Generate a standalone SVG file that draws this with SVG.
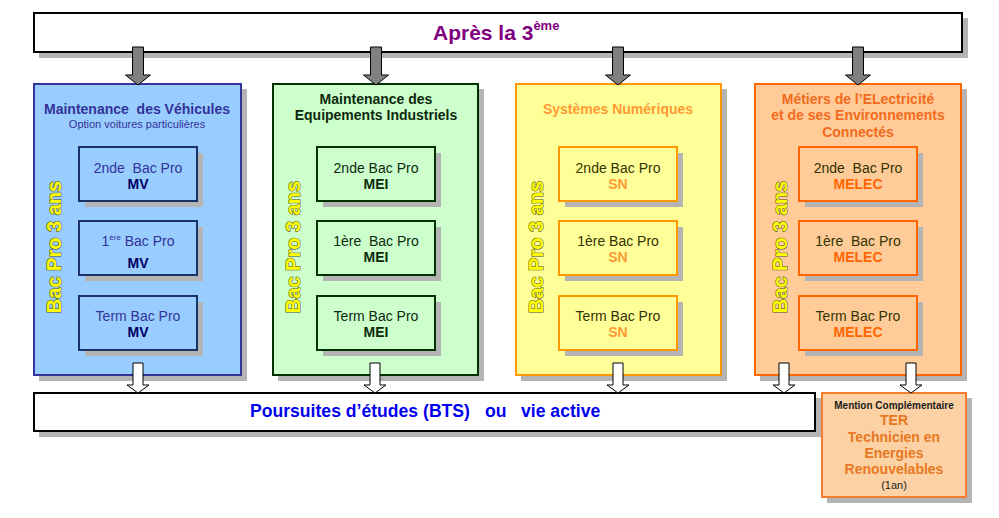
<svg xmlns="http://www.w3.org/2000/svg" width="999" height="518" viewBox="0 0 999 518">
<style>
text{font-family:"Liberation Sans",Arial,sans-serif;text-anchor:middle}
.shadow{fill:#b4b4b4}
.frame{fill:#ffffff;stroke:#000000;stroke-width:2}
.b{font-weight:bold}
.t14{font-size:14px}
.vert{font-size:20px;font-weight:bold;fill:#ffff00;stroke:#4a4a1a;stroke-width:1;paint-order:stroke}
.inbox{stroke-width:2}
.garrow{fill:#808080;stroke:#000000;stroke-width:1}
.warrow{fill:#ffffff;stroke:#000000;stroke-width:1}
.pre{white-space:pre}
</style>

<g id="top">
  <rect class="shadow" x="39" y="18" width="929" height="40"/>
  <rect class="frame" x="34" y="13" width="928" height="39"/>
  <text x="433" y="40" class="b" style="font-size:21px;fill:#800080;text-anchor:start">Après la 3<tspan dy="-10" style="font-size:13px">ème</tspan></text>
</g>

<g id="col-mv">
  <rect class="shadow" x="39" y="89" width="208" height="292"/>
  <rect x="34" y="84" width="207" height="291" fill="#99ccff" stroke="#333399" stroke-width="2"/>
  <text x="137" y="114" class="b t14 pre" fill="#333399">Maintenance  des Véhicules</text>
  <text x="137" y="128" style="font-size:11px" fill="#333399">Option voitures particulières</text>
  <text class="vert" transform="rotate(-90 61 247)" x="61" y="247">Bac Pro 3 ans</text>
  <g id="mv1"><rect class="shadow" x="85" y="153" width="118" height="54"/><rect class="inbox" x="79" y="147" width="118" height="54" fill="#99ccff" stroke="#1a3366"/>
    <text x="138" y="173" class="t14 pre" fill="#333399">2nde  Bac Pro</text><text x="138" y="189" class="b t14" fill="#000066">MV</text></g>
  <g id="mv2"><rect class="shadow" x="85" y="227" width="118" height="54"/><rect class="inbox" x="79" y="221" width="118" height="54" fill="#99ccff" stroke="#1a3366"/>
    <text x="138" y="246" class="t14" fill="#333399">1<tspan dy="-6" style="font-size:8px">ère</tspan><tspan dy="6"> Bac Pro</tspan></text><text x="138" y="268" class="b t14" fill="#000066">MV</text></g>
  <g id="mv3"><rect class="shadow" x="85" y="302" width="118" height="54"/><rect class="inbox" x="79" y="296" width="118" height="54" fill="#99ccff" stroke="#1a3366"/>
    <text x="138" y="321" class="t14" fill="#333399">Term Bac Pro</text><text x="138" y="337" class="b t14" fill="#000066">MV</text></g>
</g>

<g id="col-mei">
  <rect class="shadow" x="278" y="89" width="206" height="292"/>
  <rect x="273" y="84" width="205" height="291" fill="#ccffcc" stroke="#003300" stroke-width="2"/>
  <text x="376" y="104" class="b t14" fill="#0d2a0d">Maintenance des</text>
  <text x="376" y="120" class="b t14" fill="#0d2a0d">Equipements Industriels</text>
  <text class="vert" transform="rotate(-90 300 247)" x="300" y="247">Bac Pro 3 ans</text>
  <g id="mei1"><rect class="shadow" x="323" y="153" width="118" height="54"/><rect class="inbox" x="317" y="147" width="118" height="54" fill="#ccffcc" stroke="#003300"/>
    <text x="376" y="173" class="t14" fill="#0d2a0d">2nde Bac Pro</text><text x="376" y="189" class="b t14" fill="#0d2a0d">MEI</text></g>
  <g id="mei2"><rect class="shadow" x="323" y="227" width="118" height="54"/><rect class="inbox" x="317" y="221" width="118" height="54" fill="#ccffcc" stroke="#003300"/>
    <text x="376" y="246" class="t14 pre" fill="#0d2a0d">1ère  Bac Pro</text><text x="376" y="262" class="b t14" fill="#0d2a0d">MEI</text></g>
  <g id="mei3"><rect class="shadow" x="323" y="302" width="118" height="54"/><rect class="inbox" x="317" y="296" width="118" height="54" fill="#ccffcc" stroke="#003300"/>
    <text x="376" y="321" class="t14" fill="#0d2a0d">Term Bac Pro</text><text x="376" y="337" class="b t14" fill="#0d2a0d">MEI</text></g>
</g>

<g id="col-sn">
  <rect class="shadow" x="521" y="89" width="206" height="292"/>
  <rect x="516" y="84" width="205" height="291" fill="#ffff99" stroke="#ff9900" stroke-width="2"/>
  <text x="618" y="114" class="b t14" fill="#ff9933">Systèmes Numériques</text>
  <text class="vert" transform="rotate(-90 543 247)" x="543" y="247">Bac Pro 3 ans</text>
  <g id="sn1"><rect class="shadow" x="565" y="153" width="118" height="54"/><rect class="inbox" x="559" y="147" width="118" height="54" fill="#ffff99" stroke="#ff9900"/>
    <text x="618" y="173" class="t14" fill="#333300">2nde Bac Pro</text><text x="618" y="189" class="b t14" fill="#ff9933">SN</text></g>
  <g id="sn2"><rect class="shadow" x="565" y="227" width="118" height="54"/><rect class="inbox" x="559" y="221" width="118" height="54" fill="#ffff99" stroke="#ff9900"/>
    <text x="618" y="246" class="t14" fill="#333300">1ère Bac Pro</text><text x="618" y="262" class="b t14" fill="#ff9933">SN</text></g>
  <g id="sn3"><rect class="shadow" x="565" y="302" width="118" height="54"/><rect class="inbox" x="559" y="296" width="118" height="54" fill="#ffff99" stroke="#ff9900"/>
    <text x="618" y="321" class="t14" fill="#333300">Term Bac Pro</text><text x="618" y="337" class="b t14" fill="#ff9933">SN</text></g>
</g>

<g id="col-melec">
  <rect class="shadow" x="760" y="89" width="207" height="292"/>
  <rect x="755" y="84" width="206" height="291" fill="#ffcc99" stroke="#ff6600" stroke-width="2"/>
  <text x="858" y="104" class="b t14" fill="#f26b1d">Métiers de l’ELectricité</text>
  <text x="858" y="120" class="b t14" fill="#f26b1d">et de ses Environnements</text>
  <text x="858" y="137" class="b t14" fill="#f26b1d">Connectés</text>
  <text class="vert" transform="rotate(-90 787 247)" x="787" y="247">Bac Pro 3 ans</text>
  <g id="melec1"><rect class="shadow" x="805" y="153" width="118" height="54"/><rect class="inbox" x="799" y="147" width="118" height="54" fill="#ffcc99" stroke="#ff6600"/>
    <text x="858" y="173" class="t14 pre" fill="#333300">2nde  Bac Pro</text><text x="858" y="189" class="b t14" fill="#ff6600">MELEC</text></g>
  <g id="melec2"><rect class="shadow" x="805" y="227" width="118" height="54"/><rect class="inbox" x="799" y="221" width="118" height="54" fill="#ffcc99" stroke="#ff6600"/>
    <text x="858" y="246" class="t14 pre" fill="#333300">1ère  Bac Pro</text><text x="858" y="262" class="b t14" fill="#ff6600">MELEC</text></g>
  <g id="melec3"><rect class="shadow" x="805" y="302" width="118" height="54"/><rect class="inbox" x="799" y="296" width="118" height="54" fill="#ffcc99" stroke="#ff6600"/>
    <text x="858" y="321" class="t14" fill="#333300">Term Bac Pro</text><text x="858" y="337" class="b t14" fill="#ff6600">MELEC</text></g>
</g>

<g id="bottom">
  <rect class="shadow" x="39" y="398" width="782" height="39"/>
  <rect class="frame" x="34" y="393" width="781" height="38"/>
  <text y="417" class="b" style="font-size:17.6px;fill:#0000ee;text-anchor:start"><tspan x="250">Poursuites d’études (BTS)</tspan><tspan x="485">ou</tspan><tspan x="521">vie active</tspan></text>
</g>

<g id="ter">
  <rect class="shadow" x="827" y="398" width="145" height="105"/>
  <rect x="822" y="393" width="144" height="104" fill="#fcd2a4" stroke="#f08030" stroke-width="2"/>
  <text x="894" y="409" class="b" style="font-size:10px" fill="#1a1a1a">Mention Complémentaire</text>
  <text x="894" y="425" class="b t14" fill="#e87722">TER</text>
  <text x="894" y="442" class="b t14" fill="#e87722">Technicien en</text>
  <text x="894" y="458" class="b t14" fill="#e87722">Energies</text>
  <text x="894" y="474" class="b t14" fill="#e87722">Renouvelables</text>
  <text x="894" y="489" style="font-size:11px" fill="#1a1a1a">(1an)</text>
</g>

<g id="connectors">
  <path class="garrow" d="M132.5,47 h11 v28 h7 l-12.5,10 l-12.5,-10 h7 z"/>
  <path class="garrow" d="M370.5,47 h11 v28 h7 l-12.5,10 l-12.5,-10 h7 z"/>
  <path class="garrow" d="M612.5,47 h11 v28 h7 l-12.5,10 l-12.5,-10 h7 z"/>
  <path class="garrow" d="M852.5,47 h11 v28 h7 l-12.5,10 l-12.5,-10 h7 z"/>
  <path class="warrow" d="M133,363 h10 v22 h6 l-11,8 l-11,-8 h6 z"/>
  <path class="warrow" d="M370,363 h10 v22 h6 l-11,8 l-11,-8 h6 z"/>
  <path class="warrow" d="M613,363 h10 v22 h6 l-11,8 l-11,-8 h6 z"/>
  <path class="warrow" d="M779,363 h10 v22 h6 l-11,8 l-11,-8 h6 z"/>
  <path class="warrow" d="M906,363 h10 v22 h6 l-11,8 l-11,-8 h6 z"/>
</g>
</svg>
